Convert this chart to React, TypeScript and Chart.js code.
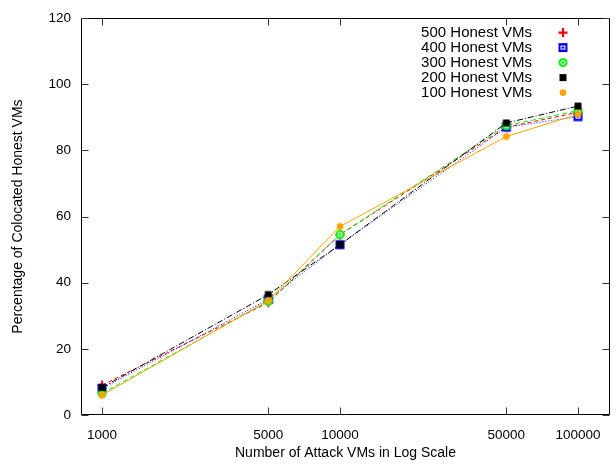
import React, { useEffect, useRef } from "react";
import { Chart, registerables } from "chart.js";

Chart.register(...registerables);

const attackVMs = [1000, 5000, 10000, 50000, 100000];
const xTickValues = [1000, 5000, 10000, 50000, 100000];
const yTickValues = [0, 20, 40, 60, 80, 100, 120];

const honest500 = [9, 34, 54.5, 87, 91.5];
const honest400 = [8, 35, 51.5, 87, 90.2];
const honest300 = [6.5, 34.4, 54.6, 87.5, 92];
const honest200 = [8.3, 36.4, 51.5, 88.3, 93.4];
const honest100 = [6, 34.6, 57, 84.2, 90.9];

const seriesLabels = [
  "500 Honest VMs",
  "400 Honest VMs",
  "300 Honest VMs",
  "200 Honest VMs",
  "100 Honest VMs",
];

type MarkerKind = "plus" | "boxed" | "ringed" | "square" | "dot";

function drawMarker(ctx: CanvasRenderingContext2D, kind: MarkerKind, color: string, x: number, y: number) {
  ctx.save();
  if (kind === "plus") {
    ctx.strokeStyle = color;
    ctx.lineWidth = 2.2;
    ctx.beginPath();
    ctx.moveTo(x - 4.5, y);
    ctx.lineTo(x + 4.5, y);
    ctx.moveTo(x, y - 4.5);
    ctx.lineTo(x, y + 4.5);
    ctx.stroke();
  } else if (kind === "boxed") {
    ctx.fillStyle = color;
    ctx.fillRect(x - 4.5, y - 4.5, 9, 9);
    ctx.strokeStyle = "#ffffff";
    ctx.lineWidth = 1;
    ctx.strokeRect(x - 2, y - 1.5, 4, 3);
  } else if (kind === "ringed") {
    ctx.fillStyle = color;
    ctx.beginPath();
    ctx.arc(x, y, 4.6, 0, Math.PI * 2);
    ctx.fill();
    ctx.strokeStyle = "#ffffff";
    ctx.lineWidth = 1;
    ctx.beginPath();
    ctx.arc(x, y, 2, 0, Math.PI * 2);
    ctx.stroke();
  } else if (kind === "square") {
    ctx.fillStyle = color;
    ctx.fillRect(x - 3.5, y - 3.5, 7, 7);
  } else {
    ctx.fillStyle = color;
    ctx.beginPath();
    ctx.arc(x, y, 3.4, 0, Math.PI * 2);
    ctx.fill();
  }
  ctx.restore();
}

function makeMarkerCanvas(kind: MarkerKind, color: string): HTMLCanvasElement {
  const c = document.createElement("canvas");
  c.width = 12;
  c.height = 12;
  const ctx = c.getContext("2d")!;
  drawMarker(ctx, kind, color, 6, 6);
  return c;
}

const seriesColors = ["#ff0000", "#0000ff", "#11ee11", "#000000", "#ffa500"];
const seriesMarkers: MarkerKind[] = ["plus", "boxed", "ringed", "square", "dot"];
const seriesDashes: number[][] = [[4, 3], [1, 2], [5, 3], [6, 2, 1, 2], []];

export default function App() {
  const canvasRef = useRef<HTMLCanvasElement | null>(null);

  useEffect(() => {
    if (!canvasRef.current) return;
    const values = [honest500, honest400, honest300, honest200, honest100];

    const framePlugin = {
      id: "frameTicks",
      afterDraw(chart: any) {
        const { ctx, chartArea } = chart;
        const { left, right, top, bottom } = chartArea;
        const xs = chart.scales.x;
        const ys = chart.scales.y;
        ctx.save();
        ctx.strokeStyle = "#000";
        ctx.lineWidth = 1;
        ctx.beginPath();
        const L = Math.round(left) + 0.5;
        const R = Math.round(right) - 0.5;
        const T = Math.round(top) + 0.5;
        const B = Math.round(bottom) - 0.5;
        ctx.rect(L, T, R - L, B - T);
        ctx.stroke();
        ctx.strokeStyle = "#333";
        ctx.beginPath();
        for (const v of xTickValues) {
          const px = Math.round(xs.getPixelForValue(v)) + 0.5;
          ctx.moveTo(px, B);
          ctx.lineTo(px, B - 7);
          ctx.moveTo(px, T);
          ctx.lineTo(px, T + 7);
        }
        for (const v of yTickValues) {
          const py = Math.round(ys.getPixelForValue(v)) + 0.5;
          ctx.moveTo(L, py);
          ctx.lineTo(L + 7, py);
          ctx.moveTo(R, py);
          ctx.lineTo(R - 7, py);
        }
        ctx.stroke();

        // legend
        ctx.font = "15px 'Liberation Sans', Arial, sans-serif";
        ctx.fillStyle = "#000";
        ctx.textAlign = "right";
        ctx.textBaseline = "middle";
        const rowStart = top + 14.5;
        seriesLabels.forEach((label, i) => {
          const y = rowStart + i * 15;
          ctx.fillText(label, 532, y);
          drawMarker(ctx, seriesMarkers[i], seriesColors[i], 563, y);
        });
        ctx.restore();
      },
    };

    const chart = new Chart(canvasRef.current, {
      type: "line",
      data: {
        datasets: values.map((vals, i) => ({
          label: seriesLabels[i],
          data: attackVMs.map((x, j) => ({ x, y: vals[j] })),
          borderColor: seriesColors[i],
          backgroundColor: seriesColors[i],
          borderWidth: 1,
          borderDash: seriesDashes[i],
          pointStyle: makeMarkerCanvas(seriesMarkers[i], seriesColors[i]) as any,
          pointRadius: 5,
          tension: 0,
          order: 4 - i,
        })),
      },
      options: {
        animation: false,
        responsive: true,
        maintainAspectRatio: false,
        layout: { padding: { top: 15, right: 6, left: 0, bottom: 0 } },
        plugins: {
          legend: { display: false },
          tooltip: { enabled: false },
        },
        scales: {
          x: {
            type: "logarithmic",
            min: 816,
            max: 136300,
            grid: { display: false, drawTicks: false },
            border: { display: false },
            afterBuildTicks: (scale: any) => {
              scale.ticks = xTickValues.map((v) => ({ value: v }));
            },
            afterFit: (scale: any) => {
              scale.height = 53;
            },
            ticks: {
              autoSkip: false,
              maxRotation: 0,
              padding: 12,
              color: "#000",
              font: { family: "'Liberation Sans', Arial, sans-serif", size: 13.5 },
              callback: (v: any) => String(v),
            },
            title: {
              display: true,
              text: "Number of Attack VMs in Log Scale",
              color: "#000",
              font: { family: "'Liberation Sans', Arial, sans-serif", size: 14 },
              padding: { top: 0, bottom: 6 },
            },
          },
          y: {
            type: "linear",
            min: 0,
            max: 120,
            grid: { display: false, drawTicks: false },
            border: { display: false },
            afterBuildTicks: (scale: any) => {
              scale.ticks = yTickValues.map((v) => ({ value: v }));
            },
            afterFit: (scale: any) => {
              scale.width = 81;
            },
            ticks: {
              padding: 10,
              color: "#000",
              font: { family: "'Liberation Sans', Arial, sans-serif", size: 13.5 },
            },
            title: {
              display: true,
              text: "Percentage of Colocated Honest VMs",
              color: "#000",
              font: { family: "'Liberation Sans', Arial, sans-serif", size: 14 },
              padding: { top: 10, bottom: 0 },
            },
          },
        },
      },
      plugins: [framePlugin],
    });

    return () => chart.destroy();
  }, []);

  return (
    <div style={{ position: "fixed", left: 0, top: 0, width: 616, height: 468, background: "#fff" }}>
      <canvas ref={canvasRef} />
    </div>
  );
}
